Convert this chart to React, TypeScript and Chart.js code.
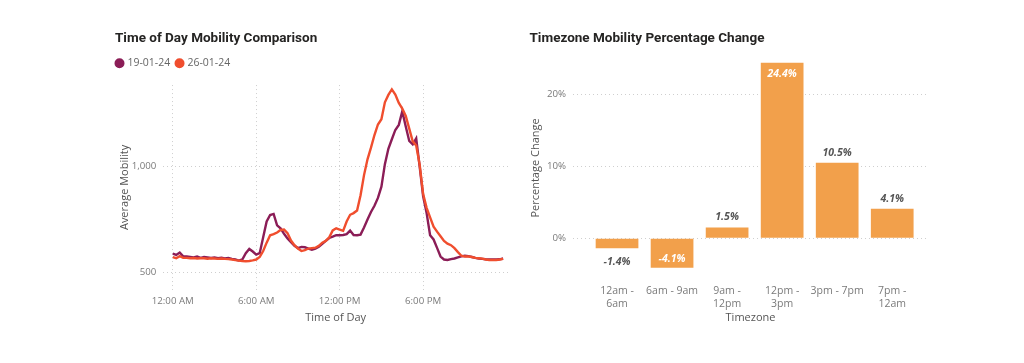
import React, { useEffect, useRef } from "react";
import { Chart, registerables } from "chart.js";

Chart.register(...registerables);

// ---------- Left chart data ----------
const SERIES_A_LABEL = "19-01-24";
const SERIES_B_LABEL = "26-01-24";
const INTERVAL_MINUTES = 15;
const MOBILITY_19 = [
  588, 582, 593, 575, 574, 572, 570, 574, 568, 572, 570, 567,
  570, 566, 568, 565, 567, 563, 560, 555, 560, 590, 610, 598,
  583, 590, 665, 740, 771, 776, 722, 708, 682, 660, 642, 625,
  614, 620, 618, 612, 606, 612, 621, 634, 648, 662, 668, 675,
  675, 676, 680, 697, 676, 675, 678, 712, 750, 785, 815, 852,
  905, 1012, 1085, 1130, 1174, 1198, 1262, 1190, 1122, 1106, 1134, 1000,
  860, 780, 675, 655, 615, 574, 560, 558, 562, 565, 570, 575,
  578, 576, 572, 568, 565, 563, 561, 560, 560, 560, 561, 565,
];
const MOBILITY_26 = [
  571, 566, 576, 568, 568, 566, 567, 565, 566, 566, 564, 566,
  565, 563, 565, 563, 562, 560, 557, 555, 553, 552, 553, 556,
  560, 572, 600, 640, 675, 680, 688, 700, 702, 685, 650, 628,
  612, 600, 604, 612, 614, 616, 625, 640, 648, 665, 698, 708,
  702, 696, 740, 772, 780, 792, 865, 960, 1035, 1090, 1150, 1200,
  1225, 1305, 1340, 1366, 1342, 1302, 1275, 1240, 1180, 1120, 1100, 1010,
  870, 805, 760, 716, 692, 670, 648, 635, 628, 614, 595, 578,
  574, 574, 572, 568, 566, 564, 560, 558, 558, 558, 560, 563,
];
const HOUR_TICKS = [0, 6, 12, 18];
const HOUR_TICK_LABELS = ["12:00 AM", "6:00 AM", "12:00 PM", "6:00 PM"];
const MOBILITY_TICKS = [500, 1000];
const HOUR_MIN = -0.68;
const HOUR_MAX = 24.1;
const MOBILITY_MIN = 416.2;
const MOBILITY_MAX = 1386.8;

// ---------- Right chart data ----------
const TIMEZONES = [
  ["12am -", "6am"],
  ["6am - 9am"],
  ["9am -", "12pm"],
  ["12pm -", "3pm"],
  ["3pm - 7pm"],
  ["7pm -", "12am"],
];
const PCT_CHANGE = [-1.4, -4.1, 1.5, 24.4, 10.5, 4.1];
const PCT_TICKS = [0, 10, 20];
const PCT_MIN = -5.1;
const PCT_MAX = 24.63;

// ---------- Styles ----------
const PURPLE = "#8B1D57";
const ORANGE = "#F04E2E";
const BAR = "#F2A04B";
const GRID = "#cfcfcf";
const TITLE_COLOR = "#252423";
const TICK_COLOR = "#7a7a7a";
const AXIS_TITLE_COLOR = "#555555";
const FONT = "'Open Sans', 'Noto Sans', sans-serif";
const TITLE_FONT = { family: "Roboto, 'Open Sans', sans-serif", size: 13.5, weight: "bold" as const };
const LEGEND_EXTRA_BOTTOM = 6.5;
const LEGEND_SHIFT_LEFT = 4.8;

const legendTweak = {
  id: "legendTweak",
  beforeUpdate(chart: any) {
    const lg = chart.legend;
    if (lg && !lg.__tweaked) {
      const fit = lg.fit.bind(lg);
      lg.fit = function () {
        fit();
        this.height += LEGEND_EXTRA_BOTTOM;
      };
      lg.__tweaked = true;
    }
  },
  afterLayout(chart: any) {
    const lg = chart.legend;
    if (lg) {
      lg.left -= LEGEND_SHIFT_LEFT;
      lg.right -= LEGEND_SHIFT_LEFT;
    }
  },
};

const barValueLabels = {
  id: "barValueLabels",
  afterDatasetsDraw(chart: any) {
    const { ctx, chartArea } = chart;
    const meta = chart.getDatasetMeta(0);
    ctx.save();
    ctx.font = `italic bold 10.5px ${FONT}`;
    ctx.textAlign = "center";
    ctx.textBaseline = "middle";
    meta.data.forEach((bar: any, i: number) => {
      const v = PCT_CHANGE[i];
      const text = `${v.toFixed(1)}%`;
      const { x, y } = bar.getProps(["x", "y"], true);
      let ty: number;
      let color = "#555555";
      if (v >= 0) {
        ty = y - 10;
        if (ty - 6 < chartArea.top) {
          ty = y + 11;
          color = "#ffffff";
        }
      } else {
        ty = y + 14;
        if (ty + 6 > chartArea.bottom) {
          ty = y - 9;
          color = "#ffffff";
        }
      }
      ctx.fillStyle = color;
      ctx.fillText(text, x, ty);
    });
    ctx.restore();
  },
};

function toPoints(values: number[]) {
  return values.map((v, i) => ({ x: (i * INTERVAL_MINUTES) / 60, y: v }));
}

export default function App() {
  const leftRef = useRef<HTMLCanvasElement>(null);
  const rightRef = useRef<HTMLCanvasElement>(null);

  useEffect(() => {
    const left = new Chart(leftRef.current as HTMLCanvasElement, {
      type: "line",
      data: {
        datasets: [
          {
            label: SERIES_A_LABEL,
            data: toPoints(MOBILITY_19),
            borderColor: PURPLE,
            backgroundColor: PURPLE,
            borderWidth: 2.4,
            pointRadius: 0,
            order: 1,
          },
          {
            label: SERIES_B_LABEL,
            data: toPoints(MOBILITY_26),
            borderColor: ORANGE,
            backgroundColor: ORANGE,
            borderWidth: 2.4,
            pointRadius: 0,
            order: 0,
          },
        ],
      },
      options: {
        animation: false,
        responsive: true,
        maintainAspectRatio: false,
        layout: { padding: { left: 15, right: 12, top: 11, bottom: 17.9 } },
        plugins: {
          title: {
            display: true,
            text: "Time of Day Mobility Comparison",
            align: "start",
            color: TITLE_COLOR,
            font: TITLE_FONT,
            padding: { top: 0, bottom: 4.25 },
          },
          legend: {
            display: true,
            align: "start",
            labels: {
              usePointStyle: true,
              pointStyle: "circle",
              boxWidth: 5.4,
              boxHeight: 5.4,
              padding: 6.6,
              color: "#666666",
              font: { family: FONT, size: 10.5 },
              sort: (a: any, b: any) => a.datasetIndex - b.datasetIndex,
            },
          },
          tooltip: { enabled: false },
        },
        scales: {
          x: {
            type: "linear",
            min: HOUR_MIN,
            max: HOUR_MAX,
            afterBuildTicks: (s: any) => {
              s.ticks = HOUR_TICKS.map((v) => ({ value: v }));
            },
            ticks: {
              autoSkip: false,
              maxRotation: 0,
              padding: 5.9,
              color: TICK_COLOR,
              font: { family: FONT, size: 9.7 },
              callback: (v: any) => HOUR_TICK_LABELS[HOUR_TICKS.indexOf(Number(v))] ?? "",
            },
            grid: { color: GRID, drawTicks: false, borderDash: [1, 3] } as any,
            border: { display: false, dash: [1, 3] },
            title: {
              display: true,
              text: "Time of Day",
              color: AXIS_TITLE_COLOR,
              font: { family: FONT, size: 11, lineHeight: 0.8 },
              padding: { top: 0, bottom: 0 },
            },
          },
          y: {
            type: "linear",
            min: MOBILITY_MIN,
            max: MOBILITY_MAX,
            afterBuildTicks: (s: any) => {
              s.ticks = MOBILITY_TICKS.map((v) => ({ value: v }));
            },
            afterFit: (s: any) => {
              s.width = 48.3;
            },
            ticks: {
              padding: 7,
              color: TICK_COLOR,
              font: { family: FONT, size: 9.7 },
              callback: (v: any) => Number(v).toLocaleString("en-US"),
            },
            grid: { color: GRID, drawTicks: false, borderDash: [1, 3] } as any,
            border: { display: false, dash: [1, 3] },
            title: {
              display: true,
              text: "Average Mobility",
              color: AXIS_TITLE_COLOR,
              font: { family: FONT, size: 11 },
              padding: { top: 3, bottom: 0 },
            },
          },
        },
      },
      plugins: [legendTweak],
    } as any);

    const right = new Chart(rightRef.current as HTMLCanvasElement, {
      type: "bar",
      data: {
        datasets: [
          {
            label: "Percentage Change",
            data: PCT_CHANGE.map((v, i) => ({ x: i, y: v })),
            backgroundColor: BAR,
            borderWidth: 0,
            categoryPercentage: 0.776,
            barPercentage: 1,
          },
        ],
      },
      options: {
        animation: false,
        responsive: true,
        maintainAspectRatio: false,
        layout: { padding: { left: 9.5, right: 12, top: 11, bottom: 17.9 } },
        plugins: {
          title: {
            display: true,
            text: "Timezone Mobility Percentage Change",
            align: "start",
            color: TITLE_COLOR,
            font: TITLE_FONT,
            padding: { top: 0, bottom: 13.8 },
          },
          legend: { display: false },
          tooltip: { enabled: false },
        },
        scales: {
          x: {
            type: "linear",
            min: -0.8,
            max: 5.65,
            offset: false,
            afterBuildTicks: (s: any) => {
              s.ticks = TIMEZONES.map((_, i) => ({ value: i }));
            },
            ticks: {
              autoSkip: false,
              maxRotation: 0,
              padding: 9.35,
              color: TICK_COLOR,
              font: { family: FONT, size: 10.5, lineHeight: 1.27 },
              callback: (v: any) => TIMEZONES[Number(v)] ?? "",
            },
            grid: { display: false, drawTicks: false },
            border: { display: false },
            title: {
              display: true,
              text: "Timezone",
              color: AXIS_TITLE_COLOR,
              font: { family: FONT, size: 11, lineHeight: 0.8 },
              padding: { top: -7, bottom: 0 },
            },
          },
          y: {
            type: "linear",
            min: PCT_MIN,
            max: PCT_MAX,
            afterBuildTicks: (s: any) => {
              s.ticks = PCT_TICKS.map((v) => ({ value: v }));
            },
            afterFit: (s: any) => {
              s.width = 43.5;
            },
            ticks: {
              padding: 7,
              color: TICK_COLOR,
              font: { family: FONT, size: 9.7 },
              callback: (v: any) => `${v}%`,
            },
            grid: { color: GRID, drawTicks: false, borderDash: [1, 3] } as any,
            border: { display: false, dash: [1, 3] },
            title: {
              display: true,
              text: "Percentage Change",
              color: AXIS_TITLE_COLOR,
              font: { family: FONT, size: 11 },
              padding: { top: 0, bottom: 0 },
            },
          },
        },
      },
      plugins: [barValueLabels],
    } as any);

    return () => {
      left.destroy();
      right.destroy();
    };
  }, []);

  return (
    <div style={{ position: "fixed", left: 0, top: 0, width: 1024, height: 363, background: "#ffffff" }}>
      <div style={{ position: "absolute", left: 100, top: 20, width: 420, height: 320 }}>
        <canvas ref={leftRef} />
      </div>
      <div style={{ position: "absolute", left: 520, top: 20, width: 420, height: 320 }}>
        <canvas ref={rightRef} />
      </div>
    </div>
  );
}
